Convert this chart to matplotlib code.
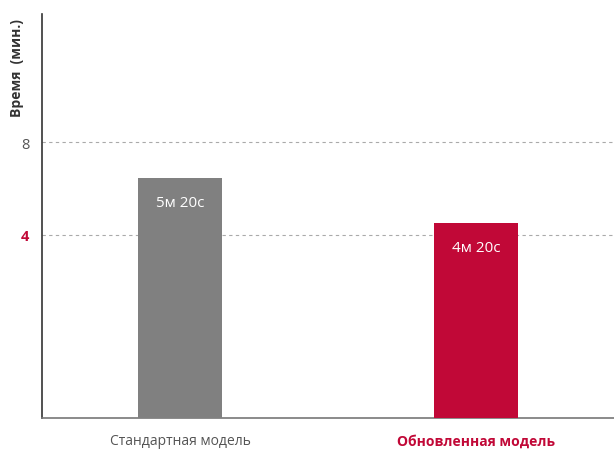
import matplotlib.pyplot as plt

plt.rcParams['font.family'] = ['Open Sans', 'DejaVu Sans']

categories = ['Стандартная модель', 'Обновленная модель']
values = [5.33, 4.33]
bar_labels = ['5м 20с', '4м 20с']
tick_pos = [4.07, 6.13]
tick_labels = ['4', '8']

gray = '#808080'
red = '#c10837'

fig = plt.figure(figsize=(6.14, 4.52), dpi=100)
ax = fig.add_axes([42 / 614, 33 / 452, 572 / 614, 404 / 452])

x = range(len(categories))
bars = ax.bar(x, values, width=0.284, color=[gray, red], zorder=3)
for b, lab in zip(bars, bar_labels):
    ax.text(b.get_x() + b.get_width() / 2, b.get_height() - 0.53, lab,
            ha='center', va='center', color='white', fontsize=11, zorder=4)

ax.set_xlim(-0.466, 1.466)
ax.set_ylim(0, 8.98)

ax.set_yticks(tick_pos)
ax.set_yticklabels(tick_labels)
ax.yaxis.grid(True, linestyle=(0, (3, 3)), color='#aaaaaa', linewidth=0.8)
ax.tick_params(axis='y', length=0, pad=9, labelsize=10.5)
yl = ax.get_yticklabels()
yl[0].set_color(red)
yl[0].set_fontweight('bold')
yl[1].set_color('#555555')

ax.set_xticks(list(x))
ax.set_xticklabels(categories)
ax.tick_params(axis='x', length=0, pad=11, labelsize=10)
xl = ax.get_xticklabels()
xl[0].set_color('#555555')
xl[1].set_color(red)
xl[1].set_fontweight('bold')

for s in ['top', 'right']:
    ax.spines[s].set_visible(False)
ax.spines['left'].set_color('#333333')
ax.spines['left'].set_linewidth(1.2)
ax.spines['bottom'].set_color('#777777')
ax.spines['bottom'].set_linewidth(1.2)

fig.text(17 / 614, 1 - 68 / 452, 'Время  (мин.)', rotation=90, ha='center',
         va='center', fontsize=10, fontweight='bold', color='#333333')

fig.savefig('out.png', dpi=100)
